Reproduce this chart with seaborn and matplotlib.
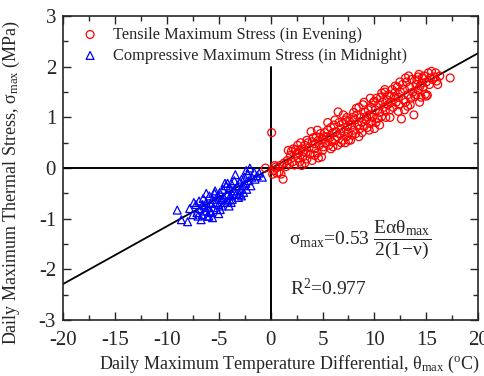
import matplotlib
matplotlib.use("Agg")
import matplotlib.pyplot as plt
import numpy as np
import pandas as pd
import seaborn as sns
from matplotlib.ticker import MultipleLocator

# tensile maximum stress (evening), red circles
tens_x = [0.3, 0.5, 0.6, 0.8, 0.9, 1.0, 1.2, 1.3, 1.5, 1.6, 1.8, 1.9, 0.1, -0.5, 0.2, 0.4,
          2.0, 2.1, 2.2, 2.3, 2.4, 2.6, 2.7, 2.8, 3.0, 3.1, 3.3, 3.4, 3.5, 3.6, 3.7, 3.8, 3.9, 4.0, 2.5, 3.2,
          4.1, 4.2, 4.3, 4.4, 4.5, 4.6, 4.7, 4.8, 4.9, 5.0, 5.1, 5.2, 5.3, 5.4, 5.5, 5.6, 5.7, 5.8, 5.9, 6.0, 4.25, 5.15,
          6.1, 6.2, 6.3, 6.4, 6.5, 6.6, 6.7, 6.8, 6.9, 7.0, 7.1, 7.2, 7.3, 7.4, 7.5, 7.6, 7.7, 7.8, 7.9, 8.0, 6.45, 7.35, 7.85,
          8.1, 8.2, 8.3, 8.4, 8.5, 8.6, 8.7, 8.8, 8.9, 9.0, 9.1, 9.2, 9.3, 9.4, 9.5, 9.6, 9.7, 9.8, 9.9, 10.0, 8.25, 9.25, 9.75,
          10.1, 10.2, 10.3, 10.4, 10.5, 10.6, 10.7, 10.8, 10.9, 11.0, 11.1, 11.2, 11.3, 11.4, 11.5, 11.6, 11.7, 11.8, 11.9, 12.0, 10.15, 11.05, 11.55,
          12.1, 12.2, 12.3, 12.4, 12.5, 12.6, 12.7, 12.8, 12.9, 13.0, 13.1, 13.2, 13.3, 13.4, 13.5, 13.6, 13.7, 13.8, 13.9, 14.0, 12.45, 13.45,
          14.1, 14.2, 14.3, 14.4, 14.5, 14.6, 14.7, 14.8, 14.9, 15.0, 15.1, 15.2, 15.3, 15.5, 15.6, 15.8, 16.0, 16.3, 17.3, 14.35, 14.55,
          2.6, 3.0, 3.5, 4.0, 4.5, 5.0, 5.5, 5.8, 6.2, 6.8, 7.0, 7.5, 8.0, 8.5, 9.0, 9.5, 10.0, 10.5, 11.0, 11.5,
          12.0, 12.3, 13.0, 13.2, 14.0, 14.2, 15.0, 15.4, 16.1, 15.9, 4.6, 6.0, 8.8, 10.7, 12.9, 7.2, 9.6, 3.3, 2.9, 1.7]
tens_y = [-0.05, 0.02, -0.1, -0.08, 0.05, -0.12, -0.22, 0.1, 0.03, 0.15, 0.08, 0.25, 0.70, 0.0, -0.12, 0.05,
          0.33, 0.12, 0.38, 0.06, 0.36, 0.2, 0.3, 0.12, 0.38, 0.22, 0.45, 0.3, 0.18, 0.5, 0.4, 0.28, 0.72, 0.52, 0.28, 0.33,
          0.6, 0.38, 0.48, 0.62, 0.3, 0.55, 0.45, 0.68, 0.22, 0.58, 0.42, 0.7, 0.5, 0.62, 0.75, 0.45, 0.6, 0.8, 0.52, 0.7, 0.25, 0.62,
          0.85, 0.55, 0.72, 0.62, 1.11, 0.9, 0.68, 0.78, 0.55, 0.88, 0.72, 0.95, 0.62, 0.82, 0.7, 0.92, 0.55, 0.85, 1.0, 0.75, 0.45, 1.0, 0.65,
          0.95, 0.68, 1.05, 0.85, 1.2, 0.78, 1.0, 0.9, 1.25, 0.82, 1.1, 0.95, 0.8, 1.15, 1.05, 0.88, 1.2, 1.0, 1.3, 0.78, 1.18, 1.02, 0.92,
          1.15, 1.38, 0.98, 1.25, 1.1, 1.4, 1.02, 1.3, 1.2, 1.5, 1.0, 1.35, 1.25, 1.45, 1.15, 1.3, 1.55, 1.2, 1.4, 1.5, 0.9, 1.12, 1.42,
          1.3, 1.6, 1.4, 1.25, 1.5, 0.97, 1.65, 1.35, 1.55, 1.3, 1.7, 1.45, 1.82, 1.6, 1.38, 1.75, 1.5, 1.05, 1.41, 1.65, 1.7, 1.25,
          1.74, 1.55, 1.85, 1.62, 1.4, 1.78, 1.6, 1.82, 1.46, 1.7, 1.44, 1.88, 1.65, 1.91, 1.75, 1.8, 1.72, 1.82, 1.78, 1.3, 1.68,
          0.45, 0.05, 0.55, 0.15, 0.75, 0.35, 0.9, 0.38, 0.95, 0.5, 1.05, 0.55, 1.1, 0.62, 1.3, 0.75, 1.32, 0.85, 1.55, 1.0,
          1.62, 1.12, 1.78, 1.22, 1.45, 1.8, 1.42, 1.78, 1.65, 1.88, 0.2, 0.42, 0.7, 1.48, 1.15, 0.5, 1.38, 0.1, 0.5, 0.35]

# compressive maximum stress (midnight), blue triangles
comp_x = [-9.0, -8.6, -8.0, -7.8, -7.2, -7.1, -7.0, -6.9, -6.8, -6.7, -6.6, -6.5, -6.4, -6.3, -6.2, -6.1, -6.0,
          -5.9, -5.8, -5.7, -5.6, -5.5, -5.4, -5.3, -5.2, -5.1, -5.0, -4.9, -4.8, -4.7, -4.6, -4.5, -4.4, -4.3,
          -4.2, -4.1, -4.0, -3.9, -3.8, -3.7, -3.6, -3.5, -3.4, -3.3, -3.2, -3.1, -3.0, -2.9, -2.8, -2.7, -2.6,
          -2.5, -2.4, -2.3, -2.2, -2.1, -2.0, -1.9, -1.8, -1.6, -1.5, -1.3, -1.1, -0.8, -6.55, -5.85, -5.35,
          -4.65, -4.15, -3.65, -4.85, -5.95, -7.4, -3.0, -2.35,
          -6.2, -5.0, -4.4, -3.8, -5.6, -2.8, -7.5, -4.0]
comp_y = [-0.83, -1.02, -1.06, -0.8, -0.72, -0.88, -0.95, -0.65, -0.8, -1.02, -0.92, -0.6, -0.75, -0.85, -0.68, -0.95, -0.78,
          -0.55, -0.7, -0.88, -0.62, -0.78, -0.5, -0.68, -0.82, -0.55, -0.72, -0.48, -0.62, -0.75, -0.42, -0.58, -0.68, -0.35,
          -0.52, -0.65, -0.4, -0.55, -0.3, -0.62, -0.45, -0.25, -0.13, -0.5, -0.35, -0.58, -0.28, -0.42, -0.22, -0.35, -0.48,
          -0.18, -0.3, -0.42, -0.12, -0.25, 0.0, -0.35, -0.18, -0.08, -0.22, -0.15, -0.1, -0.18, -0.72, -0.85, -0.45,
          -0.62, -0.3, -0.52, -0.82, -0.95, -0.68, -0.52, -0.05,
          -0.5, -0.9, -0.3, -0.68, -0.98, -0.55, -0.92, -0.75]

# regression line sigma = 0.114 * theta
fit_x = [-20, 20]
fit_y = [-2.29, 2.27]

sns.set_style("ticks")
plt.rcParams['font.family'] = ['Liberation Serif', 'DejaVu Serif']
plt.rcParams['mathtext.fontset'] = 'custom'
plt.rcParams['mathtext.rm'] = 'Liberation Serif'
plt.rcParams['mathtext.it'] = 'Liberation Serif'
plt.rcParams['mathtext.bf'] = 'Liberation Serif:bold'
plt.rcParams['axes.unicode_minus'] = False

fig = plt.figure(figsize=(4.85, 3.76), dpi=100)
ax = fig.add_axes([0.130, 0.149, 0.856, 0.808])

ax.axhline(0, color='black', lw=1.4, zorder=1)
ax.axvline(0, ymin=0, ymax=5 / 6, color='black', lw=1.4, zorder=1)
sns.lineplot(x=fit_x, y=fit_y, color='black', lw=1.3, ax=ax, zorder=2)

sns.scatterplot(x=tens_x, y=tens_y, marker='o', s=32, facecolor='none', edgecolor='red',
                linewidth=0.9, ax=ax, zorder=3, label='Tensile Maximum Stress (in Evening)')
sns.scatterplot(x=comp_x, y=comp_y, marker='^', s=32, facecolor='none', edgecolor='blue',
                linewidth=0.9, ax=ax, zorder=3, label='Compressive Maximum Stress (in Midnight)')

ax.set_xlim(-20, 20)
ax.set_ylim(-3, 3)
ax.xaxis.set_major_locator(MultipleLocator(5))
ax.xaxis.set_minor_locator(MultipleLocator(2.5))
ax.yaxis.set_major_locator(MultipleLocator(1))
ax.yaxis.set_minor_locator(MultipleLocator(0.5))
ax.tick_params(which='both', direction='in', top=True, right=True, labelsize=15, width=1, pad=5)
ax.tick_params(axis='x', which='major', pad=8)
ax.tick_params(which='major', length=6)
ax.tick_params(which='minor', length=3.5)
for sp in ax.spines.values():
    sp.set_linewidth(1.2)

ax.set_xlabel('Daily Maximum Temperature Differential, θ$_{\\rm max}$ ($^{\\rm o}$C)', fontsize=13)
ax.set_ylabel('Daily Maximum Thermal Stress, σ$_{\\rm max}$ (MPa)', fontsize=13)
ax.xaxis.set_label_coords(0.545, -0.11)
ax.yaxis.set_label_coords(-0.10, 0.454)

leg = ax.legend(loc='upper left', frameon=False, fontsize=11.8, handletextpad=0.4,
                borderaxespad=0.25, labelspacing=0.3)

ax.text(1.8, -1.42, 'σ$_{\\rm max}$=0.53 $\\dfrac{\\rm Eαθ_{max}}{\\rm 2(1\\!-\\!ν)}$',
        fontsize=14, va='center', ha='left')
ax.text(1.9, -2.38, 'R$^{2}$=0.977', fontsize=14, va='center', ha='left')

fig.savefig('out.png', dpi=100)
